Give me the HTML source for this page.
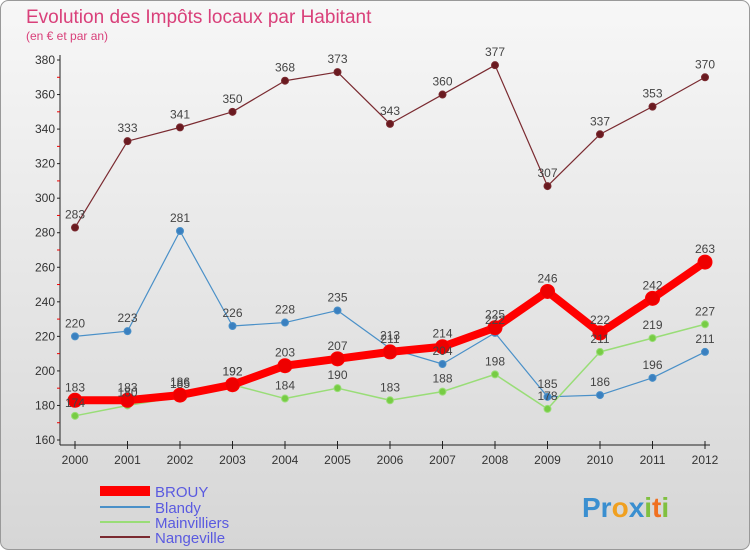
<!DOCTYPE html>
<html><head><meta charset="utf-8"><style>
body{margin:0;width:750px;height:550px;overflow:hidden;font-family:"Liberation Sans",sans-serif}
</style></head><body>
<svg id="c" width="750" height="550" xmlns="http://www.w3.org/2000/svg">
<defs><linearGradient id="bg" x1="0" y1="0" x2="0" y2="1"><stop offset="0" stop-color="#f7f7f7"/><stop offset="1" stop-color="#d6d6d6"/></linearGradient></defs>
<rect x="0.5" y="0.5" width="749" height="549" rx="8" fill="url(#bg)" stroke="#999"/>
<text x="26" y="23" font-size="19" fill="#d9407a">Evolution des Impôts locaux par Habitant</text>
<text x="26" y="40" font-size="12" fill="#d9407a">(en € et par an)</text>
<g id="axes"></g><g id="series"></g><g id="labels"></g>
<g font-size="15">
<rect x="100" y="486" width="50" height="10" fill="#ff0000"/>
<text x="155" y="497" fill="#5a5ae0">BROUY</text>
<line x1="100" y1="507" x2="150" y2="507" stroke="#4a90c8" stroke-width="2"/>
<text x="155" y="513" fill="#5a5ae0">Blandy</text>
<line x1="100" y1="522" x2="150" y2="522" stroke="#99dd77" stroke-width="2"/>
<text x="155" y="528" fill="#5a5ae0">Mainvilliers</text>
<line x1="100" y1="537" x2="150" y2="537" stroke="#7a2a30" stroke-width="2"/>
<text x="155" y="543" fill="#5a5ae0">Nangeville</text>
</g>
<text x="582" y="517" font-size="28" font-weight="bold"><tspan fill="#3a8fd0">Pr</tspan><tspan fill="#f0a020">o</tspan><tspan fill="#3a8fd0">x</tspan><tspan fill="#80c040">i</tspan><tspan fill="#f07020">t</tspan><tspan fill="#80c040">i</tspan></text>
</svg>
<script>
const years=[2000,2001,2002,2003,2004,2005,2006,2007,2008,2009,2010,2011,2012];
const brouy=[183,183,186,192,203,207,211,214,225,246,222,242,263];
const blandy=[220,223,281,226,228,235,213,204,222,185,186,196,211];
const mainvilliers=[174,180,185,192,184,190,183,188,198,178,211,219,227];
const nangeville=[283,333,341,350,368,373,343,360,377,307,337,353,370];
const yTicks=[160,180,200,220,240,260,280,300,320,340,360,380];
const NS="http://www.w3.org/2000/svg";
const x=i=>75+i*52.5;
const y=v=>440-(v-160)*(380/220);
function mk(t,a,p){const e=document.createElementNS(NS,t);for(const k in a)e.setAttribute(k,a[k]);p.appendChild(e);return e;}
const ax=document.getElementById('axes');
mk('line',{x1:60,y1:55,x2:60,y2:445,stroke:'#222'},ax);
mk('line',{x1:60,y1:445,x2:710,y2:445,stroke:'#222'},ax);
yTicks.forEach(v=>{
 const t=mk('text',{x:55,y:y(v)+4,'font-size':12,'text-anchor':'end',fill:'#333'},ax);t.textContent=v;
 
 
 mk('line',{x1:57,y1:y(v),x2:60,y2:y(v),stroke:'#222'},ax);
 if(v<380) mk('line',{x1:57,y1:y(v+10),x2:60,y2:y(v+10),stroke:'#e00'},ax);
});
years.forEach((yr,i)=>{
 mk('line',{x1:x(i),y1:441,x2:x(i),y2:449,stroke:'#222'},ax);
 const t=mk('text',{x:x(i),y:464,'font-size':12,'text-anchor':'middle',fill:'#333'},ax);t.textContent=yr;
 
 
});
const S=document.getElementById('series'),L=document.getElementById('labels');
function draw(vals,name,col,w,r,fill){
 const pts=vals.map((v,i)=>x(i)+','+y(v)).join(' ');
 const pl=mk('polyline',{points:pts,fill:'none',stroke:col,'stroke-width':w,'stroke-linejoin':'round'},S);
 
 
 vals.forEach((v,i)=>{
  const c=mk('circle',{cx:x(i),cy:y(v),r:r,fill:fill,stroke:col,'stroke-width':1},S);
  
  
  const t=mk('text',{x:x(i),y:y(v)-9,'font-size':12,'text-anchor':'middle',fill:'#444'},L);t.textContent=v;
  
  
 });
}
draw(nangeville,'nangeville','#7a2a30',1.2,3.5,'#6a1a20');
draw(blandy,'blandy','#4a90c8',1.2,3.5,'#3a80c0');
draw(mainvilliers,'mainvilliers','#99dd77',1.5,3.5,'#77cc44');
draw(brouy,'brouy','#ff0000',8,7,'#ee0000');
</script>
</body></html>
